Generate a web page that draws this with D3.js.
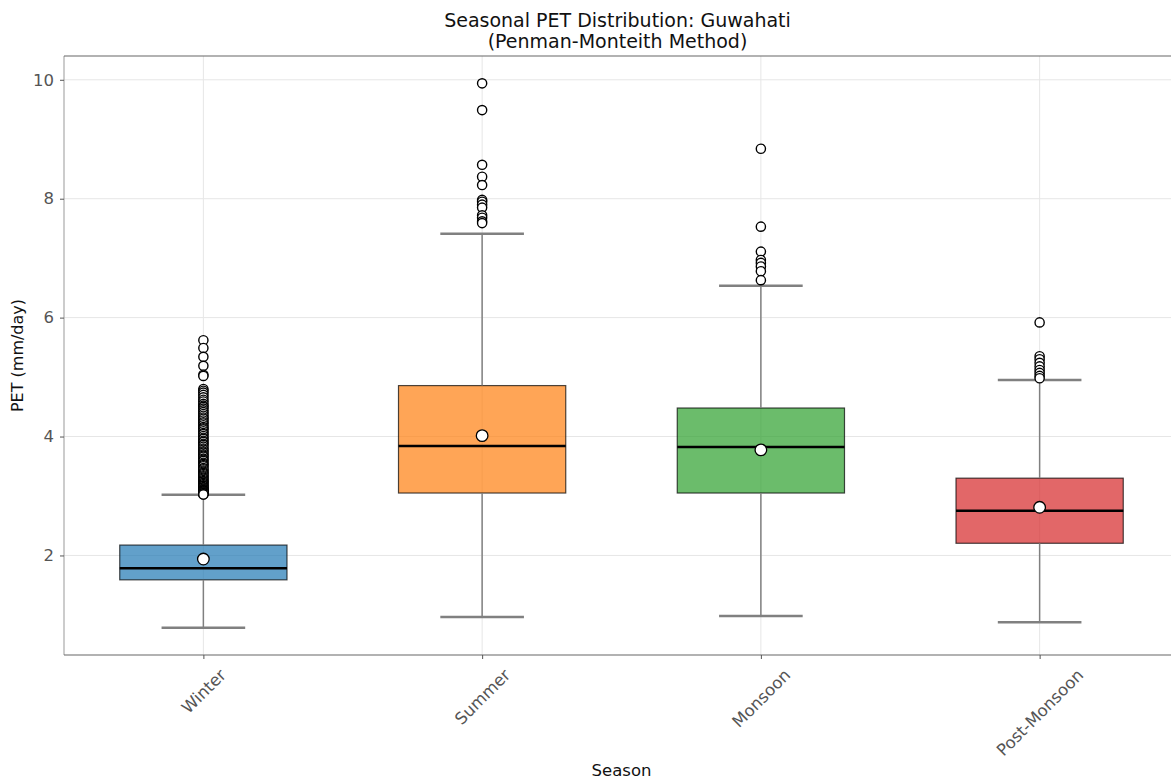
<!DOCTYPE html>
<html>
<head>
<meta charset="utf-8">
<script src="https://cdn.jsdelivr.net/npm/d3@7"></script>
<style>
  html, body { margin: 0; padding: 0; background: #fff; }
  svg { display: block; font-family: "DejaVu Sans", sans-serif; }
</style>
</head>
<body>
<svg id="chart" width="1171" height="780"></svg>
<script>
// Seasonal PET summary statistics (mm/day)
const seasons = ["Winter", "Summer", "Monsoon", "Post-Monsoon"];
const colors = ["#1f77b4", "#ff7f0e", "#2ca02c", "#d62728"];
const q1 = [1.59, 3.05, 3.05, 2.205];
const medians = [1.785, 3.84, 3.825, 2.75];
const q3 = [2.175, 4.857, 4.48, 3.30];
const means = [1.94, 4.015, 3.775, 2.81];
const whiskerLow = [0.785, 0.965, 0.98, 0.876];
const whiskerHigh = [3.02, 7.41, 6.535, 4.95];
const outliersWinter = [5.62, 5.49, 5.34, 5.19, 5.04, 5.02, 4.80, 4.77, 4.74, 4.70, 4.66, 4.62,
  4.59, 4.55, 4.52, 4.50, 4.47, 4.44, 4.41, 4.38, 4.35, 4.32, 4.30, 4.27, 4.24, 4.22, 4.19,
  4.16, 4.14, 4.12, 4.09, 4.06, 4.04, 4.01, 3.98, 3.96, 3.93, 3.91, 3.88, 3.86, 3.83, 3.80,
  3.78, 3.75, 3.73, 3.70, 3.68, 3.66, 3.63, 3.61, 3.59, 3.56, 3.54, 3.52, 3.50, 3.47, 3.45,
  3.43, 3.41, 3.39, 3.37, 3.35, 3.33, 3.31, 3.29, 3.27, 3.25, 3.24, 3.22, 3.20, 3.18, 3.17,
  3.15, 3.14, 3.12, 3.11, 3.10, 3.09, 3.08, 3.07, 3.06, 3.05, 3.04, 3.035, 3.03, 3.025];
const outliersSummer = [9.94, 9.49, 8.57, 8.37, 8.23, 7.98, 7.95, 7.90, 7.85, 7.72, 7.68, 7.62, 7.59];
const outliersMonsoon = [8.84, 7.53, 7.11, 6.97, 6.92, 6.86, 6.78, 6.63];
const outliersPost = [5.92, 5.35, 5.30, 5.24, 5.18, 5.12, 5.07, 5.02, 4.98];
const outliers = [outliersWinter, outliersSummer, outliersMonsoon, outliersPost];
const yTicks = [2, 4, 6, 8, 10];

const svg = d3.select("#chart");
const plot = { left: 64, right: 1179, top: 56, bottom: 655 };
const tickFont = 16.5;

const x = d3.scaleLinear().domain([-0.5, 3.5]).range([plot.left, plot.right]);
const y = d3.scaleLinear().domain([0.326, 10.40]).range([plot.bottom, plot.top]);
const boxW = x(0.6) - x(0);
const capW = x(0.3) - x(0);

svg.append("defs").append("clipPath").attr("id", "plotclip")
  .append("rect").attr("x", plot.left).attr("y", plot.top)
  .attr("width", plot.right - plot.left).attr("height", plot.bottom - plot.top);

// grid
const grid = svg.append("g").attr("clip-path", "url(#plotclip)");
grid.selectAll("line.gy").data(yTicks).join("line")
  .attr("x1", plot.left).attr("x2", plot.right)
  .attr("y1", d => y(d)).attr("y2", d => y(d))
  .attr("stroke", "#e6e6e6").attr("stroke-width", 1);
grid.selectAll("line.gx").data(seasons).join("line")
  .attr("x1", (d, i) => x(i)).attr("x2", (d, i) => x(i))
  .attr("y1", plot.top).attr("y2", plot.bottom)
  .attr("stroke", "#e6e6e6").attr("stroke-width", 1);

const marks = svg.append("g").attr("clip-path", "url(#plotclip)");
seasons.forEach((s, i) => {
  const cx = x(i);
  const g = marks.append("g");
  // box
  g.append("rect")
    .attr("x", cx - boxW / 2).attr("width", boxW)
    .attr("y", y(q3[i])).attr("height", y(q1[i]) - y(q3[i]))
    .attr("fill", colors[i]).attr("fill-opacity", 0.7)
    .attr("stroke", "#000").attr("stroke-opacity", 0.7).attr("stroke-width", 1.2);
  // whiskers
  g.append("line").attr("x1", cx).attr("x2", cx)
    .attr("y1", y(q1[i])).attr("y2", y(whiskerLow[i]))
    .attr("stroke", "#808080").attr("stroke-width", 1.5);
  g.append("line").attr("x1", cx).attr("x2", cx)
    .attr("y1", y(q3[i])).attr("y2", y(whiskerHigh[i]))
    .attr("stroke", "#808080").attr("stroke-width", 1.5);
  // caps
  [whiskerLow[i], whiskerHigh[i]].forEach(v => {
    g.append("line").attr("x1", cx - capW / 2).attr("x2", cx + capW / 2)
      .attr("y1", y(v)).attr("y2", y(v))
      .attr("stroke", "#808080").attr("stroke-width", 2.5);
  });
  // median
  g.append("line").attr("x1", cx - boxW / 2).attr("x2", cx + boxW / 2)
    .attr("y1", y(medians[i])).attr("y2", y(medians[i]))
    .attr("stroke", "#000").attr("stroke-width", 2.5);
  // fliers
  g.selectAll("circle.flier").data(outliers[i]).join("circle")
    .attr("cx", cx).attr("cy", d => y(d)).attr("r", 4.6)
    .attr("fill", "#fff").attr("stroke", "#000").attr("stroke-width", 1.4);
  // mean
  g.append("circle").attr("cx", cx).attr("cy", y(means[i])).attr("r", 5.8)
    .attr("fill", "#fff").attr("stroke", "#000").attr("stroke-width", 1.3);
});

// spines
const spine = svg.append("g");
spine.append("line").attr("x1", plot.left).attr("x2", plot.left)
  .attr("y1", plot.top).attr("y2", plot.bottom).attr("stroke", "#aaa").attr("stroke-width", 1.2);
spine.append("line").attr("x1", plot.left).attr("x2", plot.right)
  .attr("y1", plot.top).attr("y2", plot.top).attr("stroke", "#666").attr("stroke-width", 1.2);
spine.append("line").attr("x1", plot.left).attr("x2", plot.right)
  .attr("y1", plot.bottom).attr("y2", plot.bottom).attr("stroke", "#666").attr("stroke-width", 1.2);

// y axis
const yAxis = svg.append("g")
  .attr("transform", `translate(${plot.left},0)`)
  .call(d3.axisLeft(y).tickValues(yTicks).tickFormat(d3.format("d")).tickSize(4).tickPadding(6));
yAxis.select(".domain").remove();
yAxis.selectAll(".tick line").attr("stroke", "#555");
yAxis.selectAll(".tick text").attr("fill", "#555").style("font-size", tickFont + "px")
  .style("font-family", "DejaVu Sans, sans-serif");

// x axis with rotated labels centred under each tick
const xAxis = svg.append("g")
  .attr("transform", `translate(0,${plot.bottom})`)
  .call(d3.axisBottom(x).tickValues(d3.range(seasons.length)).tickFormat(i => seasons[i]).tickSize(4));
xAxis.select(".domain").remove();
xAxis.selectAll(".tick line").attr("stroke", "#555");
xAxis.selectAll(".tick text")
  .attr("fill", "#555").style("font-size", tickFont + "px")
  .style("font-family", "DejaVu Sans, sans-serif")
  .attr("text-anchor", "middle").attr("dominant-baseline", "central")
  .attr("dy", null)
  .each(function () {
    const w = this.getComputedTextLength();
    const cy = 12 + (w + tickFont * 0.9) / 2 * Math.SQRT1_2;
    d3.select(this).attr("y", 0).attr("x", 0)
      .attr("transform", `translate(0,${cy}) rotate(-45)`);
  });

// labels
svg.append("text").attr("x", (plot.left + plot.right) / 2).attr("y", 776)
  .attr("text-anchor", "middle").style("font-size", "16.5px").attr("fill", "#111").text("Season");
svg.append("text").attr("transform", `translate(23,${(plot.top + plot.bottom) / 2}) rotate(-90)`)
  .attr("text-anchor", "middle").style("font-size", "16px").attr("fill", "#111").text("PET (mm/day)");

// title
const title = svg.append("text").attr("text-anchor", "middle").style("font-size", "19px").attr("fill", "#111");
title.append("tspan").attr("x", (plot.left + plot.right) / 2 - 4).attr("y", 27).text("Seasonal PET Distribution: Guwahati");
title.append("tspan").attr("x", (plot.left + plot.right) / 2 - 4).attr("y", 48).text("(Penman-Monteith Method)");
</script>
</body>
</html>
